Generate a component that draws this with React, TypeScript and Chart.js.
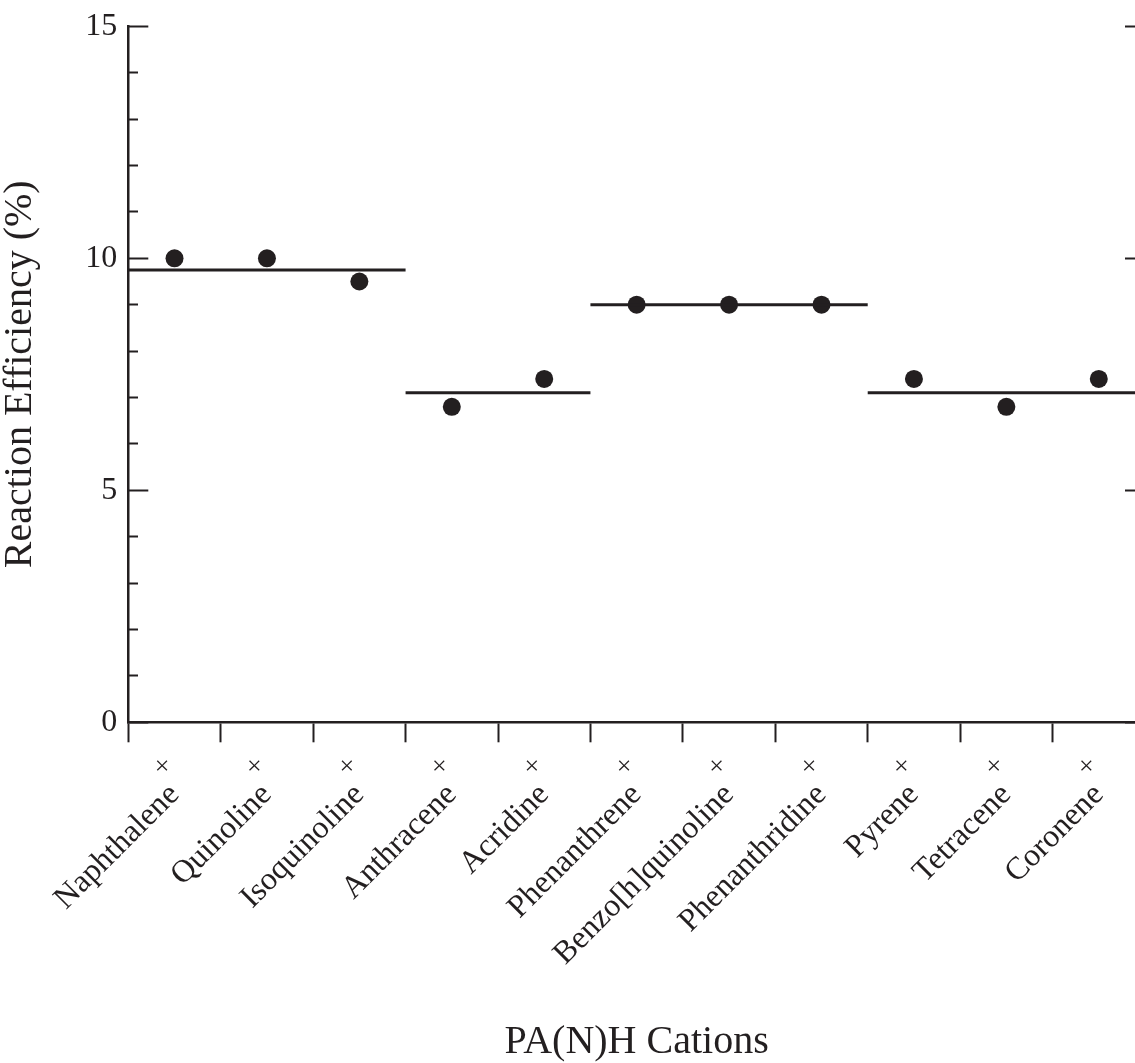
import React, { useEffect, useRef } from 'react';
import { Chart, registerables } from 'chart.js';

Chart.register(...registerables);

// ---- data ----
const categories = [
  'Naphthalene',
  'Quinoline',
  'Isoquinoline',
  'Anthracene',
  'Acridine',
  'Phenanthrene',
  'Benzo[h]quinoline',
  'Phenanthridine',
  'Pyrene',
  'Tetracene',
  'Coronene',
];
const efficiency = [10, 10, 9.5, 6.8, 7.4, 9.0, 9.0, 9.0, 7.4, 6.8, 7.4];
// groups of categories (first / last index) and the group mean line value
const groupFirst = [0, 3, 5, 8];
const groupLast = [2, 4, 7, 10];
const groupMean = [9.75, 7.1, 9.0, 7.1];
const majorYTicks = [0, 5, 10, 15];
const minorYTicks = [1, 2, 3, 4, 6, 7, 8, 9, 11, 12, 13, 14];
const markerLabel = '×';
const xTitle = 'PA(N)H Cations';
const yTitle = 'Reaction Efficiency (%)';

const INK = '#231f20';
const FONT = "'Liberation Serif', 'Times New Roman', serif";

const catIdx = categories.map((_, i) => i);
const setTicks = (vals: number[]) => (s: any) => {
  s.ticks = vals.map((v) => ({ value: v }));
};

export default function App() {
  const ref = useRef<HTMLCanvasElement>(null);

  useEffect(() => {
    if (!ref.current) return;
    const lineSets = groupMean.map((m, g) => ({
      type: 'scatter' as const,
      data: [
        { x: groupFirst[g] - 0.5, y: m },
        { x: groupLast[g] + 0.5, y: m },
      ],
      showLine: true,
      borderColor: INK,
      borderWidth: 3,
      pointRadius: 0,
      xAxisID: 'x',
      yAxisID: 'y',
    }));
    const chart = new Chart(ref.current, {
      type: 'scatter',
      data: {
        datasets: [
          ...lineSets,
          {
            data: efficiency.map((v, i) => ({ x: i, y: v })),
            showLine: false,
            backgroundColor: INK,
            borderWidth: 0,
            pointRadius: 9,
            xAxisID: 'x',
            yAxisID: 'y',
          },
        ] as any,
      },
      options: {
        animation: false,
        responsive: false,
        devicePixelRatio: 1,
        layout: { padding: { top: 26.3, left: 0, right: 0, bottom: 0 } },
        plugins: { legend: { display: false }, tooltip: { enabled: false } },
        scales: {
          x: {
            type: 'linear',
            position: 'bottom',
            min: -0.5,
            max: 10.5,
            afterBuildTicks: setTicks(catIdx),
            grid: {
              offset: true,
              drawOnChartArea: false,
              drawTicks: true,
              tickLength: 20,
              tickWidth: 2,
              tickColor: INK,
              color: INK,
            },
            border: { display: true, width: 2.5, color: INK },
            ticks: {
              autoSkip: false,
              maxRotation: 0,
              minRotation: 0,
              padding: 9,
              labelOffset: -12.5,
              font: { family: FONT, size: 26 },
              color: INK,
              callback: () => markerLabel,
            },
            afterFit: (s: any) => {
              s.height = 54;
              s.paddingLeft = 0;
              s.paddingRight = 0;
            },
          },
          xn: {
            type: 'linear',
            position: 'bottom',
            min: -0.5,
            max: 10.5,
            afterBuildTicks: setTicks(catIdx),
            grid: { display: false, drawTicks: false, tickLength: 0 },
            border: { display: false },
            ticks: {
              autoSkip: false,
              maxRotation: 45,
              minRotation: 45,
              padding: 0,
              font: { family: FONT, size: 32 },
              color: INK,
              callback: (_v: any, i: number) => categories[i],
            },
            title: {
              display: true,
              text: xTitle,
              font: { family: FONT, size: 40 },
              color: INK,
              padding: { top: 0, bottom: 4 },
            },
            afterFit: (s: any) => {
              s.height = 293.7;
              s.paddingLeft = 0;
              s.paddingRight = 0;
            },
          },
          y: {
            type: 'linear',
            position: 'left',
            min: 0,
            max: 15,
            afterBuildTicks: setTicks(majorYTicks),
            grid: {
              drawOnChartArea: false,
              drawTicks: true,
              tickLength: -20,
              tickWidth: 2,
              tickColor: INK,
              color: INK,
            },
            border: { display: true, width: 2.5, color: INK },
            ticks: {
              padding: 31,
              font: { family: FONT, size: 32 },
              color: INK,
            },
            title: {
              display: true,
              text: yTitle,
              font: { family: FONT, size: 40, lineHeight: 1 },
              color: INK,
              padding: { top: 0, bottom: 0 },
            },
            afterFit: (s: any) => {
              s.width = 128.3;
              s.paddingTop = 0;
              s.paddingBottom = 0;
            },
          },
          yMinor: {
            type: 'linear',
            position: { x: -0.5 },
            min: 0,
            max: 15,
            afterBuildTicks: setTicks(minorYTicks),
            grid: {
              drawOnChartArea: false,
              drawTicks: true,
              tickLength: -10,
              tickWidth: 2,
              tickColor: INK,
              color: INK,
            },
            border: { display: false },
            ticks: { display: false },
            afterFit: (s: any) => {
              s.paddingTop = 0;
              s.paddingBottom = 0;
            },
          },
          yR: {
            type: 'linear',
            position: 'right',
            min: 0,
            max: 15,
            afterBuildTicks: setTicks(majorYTicks),
            grid: {
              drawOnChartArea: false,
              drawTicks: true,
              tickLength: -20,
              tickWidth: 2,
              tickColor: INK,
              color: INK,
            },
            border: { display: true, width: 2.5, color: INK },
            ticks: { display: false },
            afterFit: (s: any) => {
              s.width = 15;
              s.paddingTop = 0;
              s.paddingBottom = 0;
            },
          },
          yRMinor: {
            type: 'linear',
            position: { x: 10.5 },
            min: 0,
            max: 15,
            afterBuildTicks: setTicks(minorYTicks),
            grid: {
              drawOnChartArea: false,
              drawTicks: true,
              tickLength: 10,
              tickWidth: 2,
              tickColor: INK,
              color: INK,
            },
            border: { display: false },
            ticks: { display: false },
            afterFit: (s: any) => {
              s.paddingTop = 0;
              s.paddingBottom = 0;
            },
          },
        } as any,
      },
    });
    return () => chart.destroy();
  }, []);

  return (
    <div
      style={{
        position: 'fixed',
        left: 0,
        top: 0,
        width: 1135,
        height: 1063,
        overflow: 'hidden',
        background: '#ffffff',
      }}
    >
      <canvas
        ref={ref}
        width={1160}
        height={1070}
        style={{ display: 'block', width: 1160, height: 1070 }}
      />
    </div>
  );
}
